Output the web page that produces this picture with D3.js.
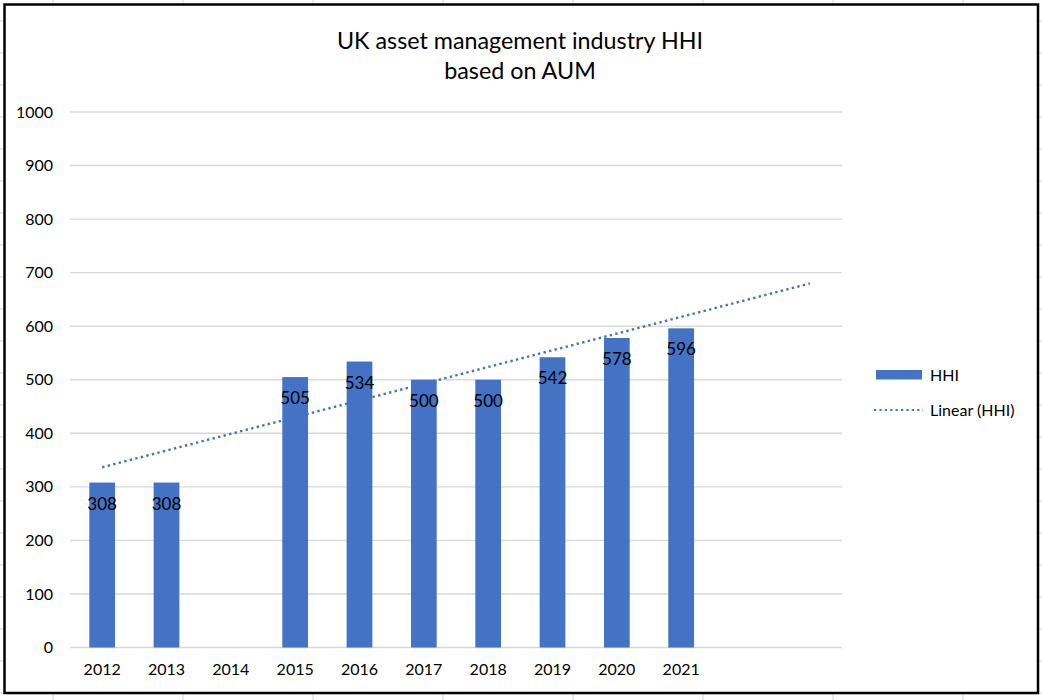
<!DOCTYPE html>
<html>
<head>
<meta charset="utf-8">
<script src="https://cdn.jsdelivr.net/npm/d3@7"></script>
<style>
  html, body { margin: 0; padding: 0; background: #fff; }
  svg { display: block; font-family: Lato, "Open Sans", sans-serif; }
</style>
</head>
<body>
<svg id="chart" width="1042" height="700"></svg>
<script>
// ---- data ----
const titleLines = ["UK asset management industry HHI", "based on AUM"];
const categories = ["2012", "2013", "2014", "2015", "2016", "2017", "2018", "2019", "2020", "2021"];
const hhiValues = [308, 308, null, 505, 534, 500, 500, 542, 578, 596];
const forecastForward = 2; // trendline forecast periods
const yTicks = [0, 100, 200, 300, 400, 500, 600, 700, 800, 900, 1000];
const seriesName = "HHI";
const trendName = "Linear (HHI)";

// ---- layout ----
const W = 1042, H = 700;
const plot = { left: 70, right: 842, top: 112, bottom: 647.5 };
const blue = "#4472C4";
const gridColor = "#d9d9d9";

const svg = d3.select("#chart");

// spreadsheet grid outside the chart frame
const colLines = [53, 183, 313, 443, 573, 703, 833, 963];
const rowLines = d3.range(21, 700, 32);
svg.append("g").selectAll("line").data(colLines).join("line")
  .attr("x1", d => d).attr("x2", d => d).attr("y1", 0).attr("y2", H)
  .attr("stroke", "#d4d4d4").attr("stroke-width", 1);
svg.append("g").selectAll("line").data(rowLines).join("line")
  .attr("x1", 0).attr("x2", W).attr("y1", d => d).attr("y2", d => d)
  .attr("stroke", "#d4d4d4").attr("stroke-width", 1);

// chart frame
svg.append("rect").attr("x", 4.5).attr("y", 4.5).attr("width", 1033.5).attr("height", 688.5)
  .attr("fill", "#fff").attr("stroke", "#000").attr("stroke-width", 2.5);

// indices including forecast periods
const nSlots = categories.length + forecastForward;
const x = d3.scaleBand().domain(d3.range(nSlots)).range([plot.left, plot.right]).paddingInner(0.6).paddingOuter(0.3);
const y = d3.scaleLinear().domain([0, 1000]).range([plot.bottom, plot.top]);
const cx = i => x(i) + x.bandwidth() / 2;

// gridlines
svg.append("g").selectAll("line").data(yTicks).join("line")
  .attr("x1", plot.left).attr("x2", plot.right)
  .attr("y1", d => y(d)).attr("y2", d => y(d))
  .attr("stroke", gridColor).attr("stroke-width", 1.4);

// y axis labels
const yAxis = d3.axisLeft(y).tickValues(yTicks).tickFormat(d3.format("d")).tickSize(0).tickPadding(0);
const yg = svg.append("g").attr("transform", `translate(53,0)`).call(yAxis);
yg.select(".domain").remove();
yg.selectAll("text").attr("font-size", 16).attr("fill", "#000").attr("font-family", "Lato, sans-serif");

// x axis labels
const xAxis = d3.axisBottom(x).tickSize(0).tickPadding(0)
  .tickFormat(i => i < categories.length ? categories[i] : "");
const xg = svg.append("g").attr("transform", `translate(0,${plot.bottom + 16})`).call(xAxis);
xg.select(".domain").remove();
xg.selectAll("text").attr("font-size", 16).attr("fill", "#000").attr("font-family", "Lato, sans-serif");

// bars
const pts = categories.map((c, i) => ({ i, c, v: hhiValues[i] })).filter(d => d.v != null);
svg.append("g").selectAll("rect").data(pts).join("rect")
  .attr("x", d => x(d.i)).attr("width", x.bandwidth())
  .attr("y", d => y(d.v)).attr("height", d => y(0) - y(d.v))
  .attr("fill", blue);

// linear trendline (least squares over non-blank points)
const mx = d3.mean(pts, d => d.i), my = d3.mean(pts, d => d.v);
const slope = d3.sum(pts, d => (d.i - mx) * (d.v - my)) / d3.sum(pts, d => (d.i - mx) ** 2);
const intercept = my - slope * mx;
const trendPts = [0, categories.length - 1 + forecastForward].map(i => ({ i, v: intercept + slope * i }));
svg.append("path").datum(trendPts)
  .attr("d", d3.line().x(d => cx(d.i)).y(d => y(d.v)))
  .attr("fill", "none").attr("stroke", blue).attr("stroke-width", 2.4)
  .attr("stroke-dasharray", "2.4,3.3");

// data labels (inside end)
svg.append("g").selectAll("text").data(pts).join("text")
  .attr("x", d => cx(d.i)).attr("y", d => y(d.v) + 27)
  .attr("text-anchor", "middle").attr("font-size", 17).attr("fill", "#000")
  .text(d => d.v);

// title
const title = svg.append("text").attr("text-anchor", "middle").attr("fill", "#000").attr("font-size", 23.3);
titleLines.forEach((t, k) => {
  title.append("tspan").attr("x", 520).attr("y", 49 + k * 30).text(t);
});

// legend
const lg = svg.append("g");
lg.append("rect").attr("x", 876).attr("y", 370).attr("width", 46).attr("height", 9.5).attr("fill", blue);
lg.append("text").attr("x", 930).attr("y", 380.5).attr("font-size", 16).text(seriesName);
lg.append("line").attr("x1", 874).attr("x2", 923).attr("y1", 410).attr("y2", 410)
  .attr("stroke", blue).attr("stroke-width", 2.2).attr("stroke-dasharray", "2.2,3.2");
lg.append("text").attr("x", 930).attr("y", 415.5).attr("font-size", 16).text(trendName);
</script>
</body>
</html>
